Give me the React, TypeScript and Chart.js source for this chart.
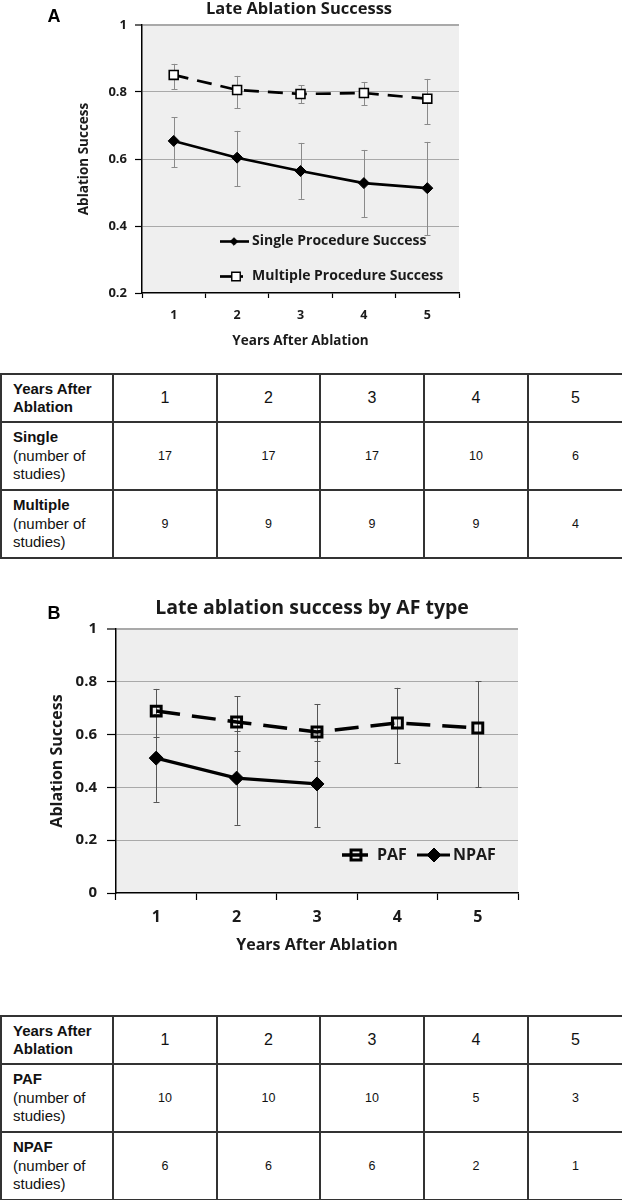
import React, { useEffect, useRef } from 'react';
import { Chart, registerables } from 'chart.js';

Chart.register(...registerables);

// ---------- DATA ----------
const years = ['1', '2', '3', '4', '5'];

const singleA = [0.654, 0.604, 0.564, 0.528, 0.513];
const singleAHigh = [0.725, 0.684, 0.648, 0.627, 0.651];
const singleALow = [0.576, 0.519, 0.481, 0.427, 0.373];

const multipleA = [0.851, 0.806, 0.794, 0.797, 0.78];
const multipleAHigh = [0.884, 0.848, 0.82, 0.83, 0.839];
const multipleALow = [0.809, 0.752, 0.767, 0.76, 0.704];

const pafB = [0.689, 0.648, 0.61, 0.644, 0.625];
const pafBHigh = [0.773, 0.746, 0.716, 0.777, 0.803];
const pafBLow = [0.591, 0.538, 0.5, 0.492, 0.4];

const npafB = [0.511, 0.435, 0.413, null, null];
const npafBHigh = [0.677, 0.612, 0.576, null, null];
const npafBLow = [0.345, 0.258, 0.25, null, null];

const singleStudies = [17, 17, 17, 10, 6];
const multipleStudies = [9, 9, 9, 9, 4];
const pafStudies = [10, 10, 10, 5, 3];
const npafStudies = [6, 6, 6, 2, 1];

const FONT = '"Open Sans", Lato, "DejaVu Sans", sans-serif';
const TEXT = '#1a1a1a';

type Series = {
  label: string;
  data: (number | null)[];
  high: (number | null)[];
  low: (number | null)[];
  pointStyle: 'rect' | 'rectRot';
  radius: number;
  fill: string;
  border: string;
  bw: number;
  lineWidth: number;
  dash: number[];
  errColor: string;
  cap: number;
};

type LegendItem = { series: number; x0: number; x1: number; mx: number; y: number; tx: number; r: number; bw: number };

type Spec = {
  top: number;
  height: number;
  plotLeft: number;
  plotTop: number;
  plotRight: number;
  plotBottom: number;
  yMin: number;
  series: Series[];
  letter: string;
  letterX: number;
  letterY: number;
  title: string;
  titleSize: number;
  titleY: number;
  titleX: number;
  tickSize: number;
  xTickSize: number;
  yTickPad: number;
  yTickLen: number;
  xTickLen: number;
  xTickPad: number;
  axisTitleSize: number;
  xTitlePadBottom: number;
  yTitlePadTop: number;
  bg: string;
  gridColor: string;
  legend: LegendItem[];
  legendSize: number;
};

function drawMarker(ctx: CanvasRenderingContext2D, style: string, x: number, y: number, r: number, fill: string, stroke: string, bw: number) {
  ctx.save();
  ctx.beginPath();
  if (style === 'rect') {
    const s = Math.SQRT1_2 * r;
    ctx.rect(x - s, y - s, 2 * s, 2 * s);
  } else {
    ctx.moveTo(x - r, y);
    ctx.lineTo(x, y - r);
    ctx.lineTo(x + r, y);
    ctx.lineTo(x, y + r);
    ctx.closePath();
  }
  ctx.fillStyle = fill;
  ctx.fill();
  ctx.setLineDash([]);
  ctx.lineWidth = bw;
  ctx.strokeStyle = stroke;
  ctx.stroke();
  ctx.restore();
}

function buildConfig(spec: Spec): any {
  const bgPlugin = {
    id: 'plotBg',
    beforeDraw(chart: any) {
      const { ctx, chartArea } = chart;
      ctx.save();
      ctx.fillStyle = spec.bg;
      ctx.fillRect(chartArea.left, chartArea.top, chartArea.right - chartArea.left, chartArea.bottom - chartArea.top);
      ctx.restore();
    },
  };

  const errPlugin = {
    id: 'errBars',
    beforeDatasetsDraw(chart: any) {
      const { ctx } = chart;
      const xs = chart.scales.x;
      const ys = chart.scales.y;
      ctx.save();
      spec.series.forEach((s) => {
        ctx.strokeStyle = s.errColor;
        ctx.lineWidth = 1;
        ctx.setLineDash([]);
        s.data.forEach((_, i) => {
          const hi = s.high[i];
          const lo = s.low[i];
          if (hi == null || lo == null) return;
          const x = Math.round(xs.getPixelForValue(i)) + 0.5;
          const yh = ys.getPixelForValue(hi);
          const yl = ys.getPixelForValue(lo);
          ctx.beginPath();
          ctx.moveTo(x, yh);
          ctx.lineTo(x, yl);
          ctx.moveTo(x - s.cap, Math.round(yh) + 0.5);
          ctx.lineTo(x + s.cap, Math.round(yh) + 0.5);
          ctx.moveTo(x - s.cap, Math.round(yl) + 0.5);
          ctx.lineTo(x + s.cap, Math.round(yl) + 0.5);
          ctx.stroke();
        });
      });
      ctx.restore();
    },
  };

  const decoPlugin = {
    id: 'deco',
    afterDraw(chart: any) {
      const { ctx } = chart;
      ctx.save();
      ctx.fillStyle = '#000';
      ctx.font = `bold 18px "Liberation Sans", Arial, sans-serif`;
      ctx.textAlign = 'center';
      ctx.textBaseline = 'alphabetic';
      ctx.fillText(spec.letter, spec.letterX, spec.letterY);
      ctx.fillStyle = TEXT;
      ctx.font = `bold ${spec.titleSize}px ${FONT}`;
      ctx.fillText(spec.title, spec.titleX, spec.titleY);
      // legend
      spec.legend.forEach((it) => {
        const s = spec.series[it.series];
        ctx.beginPath();
        ctx.setLineDash([]);
        ctx.strokeStyle = s.border;
        ctx.lineWidth = s.lineWidth;
        ctx.moveTo(it.x0, it.y);
        ctx.lineTo(it.x1, it.y);
        ctx.stroke();
        drawMarker(ctx, s.pointStyle, it.mx, it.y, it.r, s.fill, s.border, it.bw);
        ctx.fillStyle = TEXT;
        ctx.font = `bold ${spec.legendSize}px ${FONT}`;
        ctx.textAlign = 'left';
        ctx.textBaseline = 'middle';
        ctx.fillText(s.label, it.tx, it.y);
      });
      ctx.restore();
    },
  };

  return {
    type: 'line',
    data: {
      labels: years,
      datasets: spec.series.map((s) => ({
        label: s.label,
        data: s.data,
        borderColor: s.border,
        backgroundColor: s.fill,
        borderWidth: s.lineWidth,
        borderDash: s.dash,
        pointStyle: s.pointStyle,
        pointRadius: s.radius,
        pointHoverRadius: s.radius,
        pointBackgroundColor: s.fill,
        pointBorderColor: s.border,
        pointBorderWidth: s.bw,
        tension: 0,
        fill: false,
        spanGaps: false,
      })),
    },
    options: {
      responsive: false,
      animation: false,
      devicePixelRatio: 1,
      events: [],
      layout: {
        padding: { left: 0, top: spec.plotTop, right: 622 - spec.plotRight, bottom: 0 },
      },
      plugins: {
        legend: { display: false },
        title: { display: false },
        tooltip: { enabled: false },
      },
      scales: {
        x: {
          type: 'category',
          offset: true,
          afterFit(scale: any) {
            scale.height = spec.height - spec.plotBottom;
          },
          grid: {
            display: true,
            offset: true,
            drawOnChartArea: false,
            drawTicks: true,
            tickLength: spec.xTickLen,
            color: '#000',
            tickColor: '#000',
            tickWidth: 1.2,
          },
          border: { display: true, color: '#000', width: 1.5 },
          ticks: {
            color: TEXT,
            font: { family: FONT, size: spec.xTickSize, weight: 'bold' },
            padding: spec.xTickPad,
            maxRotation: 0,
          },
          title: {
            display: true,
            text: 'Years After Ablation',
            color: TEXT,
            font: { family: FONT, size: spec.axisTitleSize, weight: 'bold' },
            padding: { top: 0, bottom: spec.xTitlePadBottom },
          },
        },
        y: {
          min: spec.yMin,
          max: 1,
          afterFit(scale: any) {
            scale.width = spec.plotLeft;
          },
          grid: {
            drawTicks: true,
            tickLength: spec.yTickLen,
            color: (c: any) => (c.tick && Math.abs(c.tick.value - spec.yMin) < 1e-6 ? 'rgba(0,0,0,0)' : spec.gridColor),
            lineWidth: (c: any) => (c.tick && Math.abs(c.tick.value - 1) < 1e-6 ? 2 : 1),
            tickColor: '#000',
            tickWidth: 1.2,
          },
          border: { display: true, color: '#000', width: 1.5 },
          ticks: {
            stepSize: 0.2,
            color: TEXT,
            font: { family: FONT, size: spec.tickSize, weight: 'bold' },
            padding: spec.yTickPad,
            callback: (v: any) => String(Number(Number(v).toFixed(1))),
          },
          title: {
            display: true,
            text: 'Ablation Success',
            color: TEXT,
            font: { family: FONT, size: spec.axisTitleSize, weight: 'bold' },
            padding: { top: spec.yTitlePadTop, bottom: 0 },
          },
        },
      },
    },
    plugins: [bgPlugin, errPlugin, decoPlugin],
  };
}

const specA: Spec = {
  top: 0,
  height: 360,
  plotLeft: 142,
  plotTop: 25,
  plotRight: 459,
  plotBottom: 293,
  yMin: 0.2,
  series: [
    {
      label: 'Single Procedure Success',
      data: singleA,
      high: singleAHigh,
      low: singleALow,
      pointStyle: 'rectRot',
      radius: 5.5,
      fill: '#000',
      border: '#000',
      bw: 1,
      lineWidth: 2.6,
      dash: [],
      errColor: '#8a8a8a',
      cap: 3,
    },
    {
      label: 'Multiple Procedure Success',
      data: multipleA,
      high: multipleAHigh,
      low: multipleALow,
      pointStyle: 'rect',
      radius: 6.3,
      fill: '#fff',
      border: '#000',
      bw: 1.6,
      lineWidth: 2.7,
      dash: [15, 9],
      errColor: '#8a8a8a',
      cap: 3,
    },
  ],
  letter: 'A',
  letterX: 54,
  letterY: 22,
  title: 'Late Ablation Successs',
  titleSize: 16.5,
  titleX: 299,
  titleY: 14,
  tickSize: 13,
  xTickSize: 12.5,
  yTickPad: 8,
  yTickLen: 7,
  xTickLen: 5,
  xTickPad: 10,
  axisTitleSize: 13.5,
  xTitlePadBottom: 10.6,
  yTitlePadTop: 75.6,
  bg: '#efefef',
  gridColor: '#a9a9a9',
  legend: [
    { series: 0, x0: 220, x1: 249, mx: 234, y: 241.5, tx: 252, r: 3.8, bw: 1 },
    { series: 1, x0: 220, x1: 243, mx: 236, y: 276.5, tx: 252, r: 6, bw: 1.4 },
  ],
  legendSize: 14,
};

const specB: Spec = {
  top: 585,
  height: 375,
  plotLeft: 116,
  plotTop: 44,
  plotRight: 518,
  plotBottom: 308,
  yMin: 0,
  series: [
    {
      label: 'PAF',
      data: pafB,
      high: pafBHigh,
      low: pafBLow,
      pointStyle: 'rect',
      radius: 7,
      fill: 'rgba(0,0,0,0)',
      border: '#000',
      bw: 3,
      lineWidth: 3.5,
      dash: [24, 12],
      errColor: '#555',
      cap: 3,
    },
    {
      label: 'NPAF',
      data: npafB,
      high: npafBHigh,
      low: npafBLow,
      pointStyle: 'rectRot',
      radius: 7,
      fill: '#000',
      border: '#000',
      bw: 1,
      lineWidth: 3.2,
      dash: [],
      errColor: '#555',
      cap: 3,
    },
  ],
  letter: 'B',
  letterX: 54,
  letterY: 34,
  title: 'Late ablation success by AF type',
  titleSize: 19.5,
  titleX: 312,
  titleY: 29,
  tickSize: 15,
  xTickSize: 16,
  yTickPad: 10,
  yTickLen: 9,
  xTickLen: 7,
  xTickPad: 8,
  axisTitleSize: 16,
  xTitlePadBottom: 5.4,
  yTitlePadTop: 47.4,
  bg: '#eeeeee',
  gridColor: '#a9a9a9',
  legend: [
    { series: 0, x0: 342, x1: 368, mx: 356, y: 270, tx: 377, r: 7, bw: 3 },
    { series: 1, x0: 417, x1: 450, mx: 434, y: 270, tx: 453, r: 7, bw: 1 },
  ],
  legendSize: 16,
};

function ChartPanel({ spec }: { spec: Spec }) {
  const ref = useRef<HTMLCanvasElement>(null);
  useEffect(() => {
    if (!ref.current) return;
    const chart = new Chart(ref.current, buildConfig(spec));
    return () => chart.destroy();
  }, [spec]);
  return (
    <canvas
      ref={ref}
      width={622}
      height={spec.height}
      style={{ position: 'absolute', left: 0, top: spec.top, width: 622, height: spec.height, display: 'block' }}
    />
  );
}

const cellBorder = '2px solid #333';

function StudiesTable({ top, rows }: { top: number; rows: { name: string; values: number[] }[] }) {
  const numHeader: React.CSSProperties = {
    border: cellBorder,
    textAlign: 'center',
    verticalAlign: 'middle',
    fontSize: 16,
    padding: 0,
  };
  const numBody: React.CSSProperties = { ...numHeader, fontSize: 12.5 };
  const first: React.CSSProperties = {
    border: cellBorder,
    textAlign: 'left',
    verticalAlign: 'middle',
    fontSize: 15,
    lineHeight: '18.5px',
    padding: '0 0 0 11px',
  };
  return (
    <table
      style={{
        position: 'absolute',
        left: 0,
        top,
        width: 622,
        borderCollapse: 'collapse',
        tableLayout: 'fixed',
        fontFamily: '"Liberation Sans", Arial, sans-serif',
        color: '#111',
      }}
    >
      <colgroup>
        <col style={{ width: 112 }} />
        <col style={{ width: 104 }} />
        <col style={{ width: 103 }} />
        <col style={{ width: 104 }} />
        <col style={{ width: 104 }} />
        <col style={{ width: 95 }} />
      </colgroup>
      <tbody>
        <tr style={{ height: 48 }}>
          <td style={{ ...first, lineHeight: '18px' }}>
            <b>Years After</b>
            <br />
            <b>Ablation</b>
          </td>
          {years.map((y) => (
            <td key={y} style={numHeader}>
              {y}
            </td>
          ))}
        </tr>
        {rows.map((r) => (
          <tr key={r.name} style={{ height: 68 }}>
            <td style={first}>
              <b>{r.name}</b>
              <br />
              (number of
              <br />
              studies)
            </td>
            {r.values.map((v, i) => (
              <td key={i} style={numBody}>
                {v}
              </td>
            ))}
          </tr>
        ))}
      </tbody>
    </table>
  );
}

export default function App() {
  return (
    <div style={{ position: 'absolute', left: 0, top: 0, width: 622, height: 1200, background: '#fff', overflow: 'hidden' }}>
      <ChartPanel spec={specA} />
      <StudiesTable
        top={373}
        rows={[
          { name: 'Single', values: singleStudies },
          { name: 'Multiple', values: multipleStudies },
        ]}
      />
      <ChartPanel spec={specB} />
      <StudiesTable
        top={1015}
        rows={[
          { name: 'PAF', values: pafStudies },
          { name: 'NPAF', values: npafStudies },
        ]}
      />
    </div>
  );
}
